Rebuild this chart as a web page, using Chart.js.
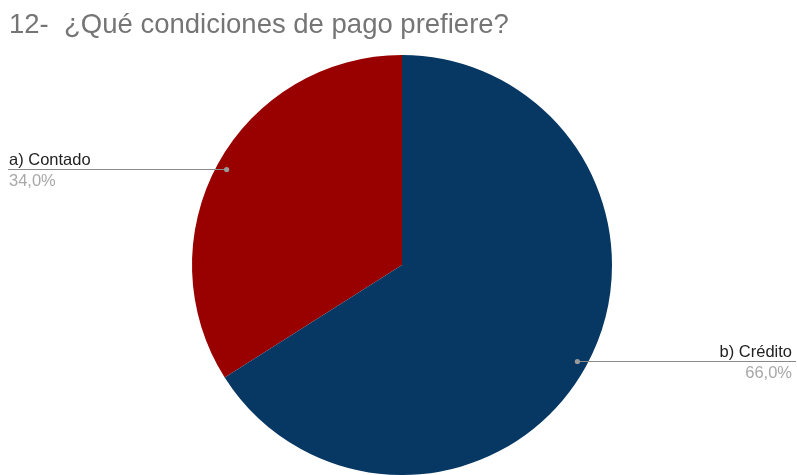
<!DOCTYPE html>
<html>
<head>
<meta charset="utf-8">
<script src="https://cdn.jsdelivr.net/npm/chart.js@4"></script>
<style>
html,body{margin:0;padding:0;background:#fff;}
#wrap{width:797px;height:475px;position:relative;}
</style>
</head>
<body>
<div id="wrap"><canvas id="c" width="797" height="475"></canvas></div>
<script>
const chartTitle = '12-  ¿Qué condiciones de pago prefiere?';
const categories = ['a) Contado', 'b) Crédito'];
const values = [34.0, 66.0];
const percentLabels = ['34,0%', '66,0%'];
const sliceColors = ['#990000', '#073763'];

const titleAndLabels = {
  id: 'titleAndLabels',
  afterDraw(chart) {
    const ctx = chart.ctx;
    const meta = chart.getDatasetMeta(0);
    const W = chart.width;
    ctx.save();
    // title
    ctx.font = '27.5px "Liberation Sans", Arial, sans-serif';
    ctx.fillStyle = '#757575';
    ctx.textAlign = 'left';
    ctx.textBaseline = 'alphabetic';
    ctx.fillText(chartTitle, 9, 33);
    // leader labels
    meta.data.forEach((arc, i) => {
      const p = arc.getProps(['x','y','startAngle','endAngle','outerRadius'], true);
      const mid = (p.startAngle + p.endAngle) / 2;
      const d = p.outerRadius * 0.953;
      const px = p.x + Math.cos(mid) * d;
      const py = Math.round(p.y + Math.sin(mid) * d) + 0.5;
      const left = Math.cos(mid) < 0;
      ctx.strokeStyle = '#8a8a8a';
      ctx.lineWidth = 1;
      ctx.beginPath();
      if (left) { ctx.moveTo(8, py); ctx.lineTo(px, py); }
      else { ctx.moveTo(px, py); ctx.lineTo(W - 1, py); }
      ctx.stroke();
      ctx.fillStyle = '#9a9a9a';
      ctx.beginPath();
      ctx.arc(px, py, 2.6, 0, Math.PI * 2);
      ctx.fill();
      ctx.font = '16.5px "Liberation Sans", Arial, sans-serif';
      ctx.textBaseline = 'alphabetic';
      ctx.textAlign = left ? 'left' : 'right';
      const tx = left ? 9 : W - 5;
      ctx.fillStyle = '#222222';
      ctx.fillText(chart.data.labels[i], tx, py - 4.5);
      ctx.fillStyle = '#a8a8a8';
      ctx.fillText(percentLabels[i], tx, py + 16.5);
    });
    ctx.restore();
  }
};

new Chart(document.getElementById('c'), {
  type: 'pie',
  data: {
    labels: categories,
    datasets: [{
      data: values,
      backgroundColor: sliceColors,
      borderWidth: 0
    }]
  },
  options: {
    responsive: false,
    animation: false,
    rotation: -values[0] / 100 * 360,
    layout: { padding: { left: 7, right: 0, top: 55, bottom: 0 } },
    plugins: {
      legend: { display: false },
      tooltip: { enabled: false },
      title: { display: false }
    }
  },
  plugins: [titleAndLabels]
});
</script>
</body>
</html>
